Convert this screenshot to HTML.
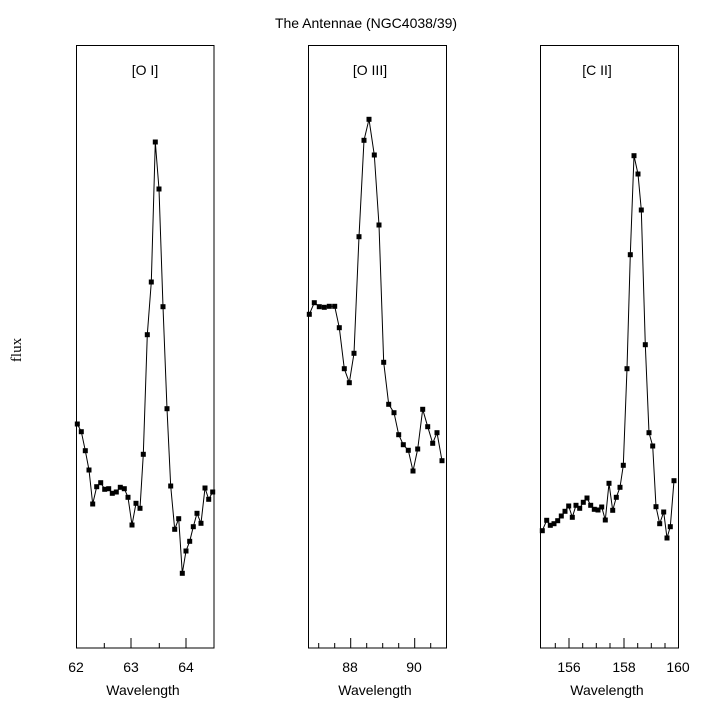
<!DOCTYPE html>
<html><head><style>
html,body{margin:0;padding:0;background:#fff;}
svg{display:block;}
text{font-family:"Liberation Sans",sans-serif;font-size:14px;fill:#000;}
</style></head><body>
<svg width="702" height="711" viewBox="0 0 702 711" xmlns="http://www.w3.org/2000/svg">
<defs>
<marker id="m" markerUnits="userSpaceOnUse" markerWidth="6" markerHeight="6" refX="3" refY="3" viewBox="0 0 6 6"><rect x="0.5" y="0.5" width="5" height="5" fill="#000"/></marker>
</defs>
<text x="366" y="28" text-anchor="middle">The Antennae (NGC4038/39)</text>
<text transform="translate(21,350) rotate(-90)" text-anchor="middle" style="font-family:'Liberation Serif',serif;font-size:15px">flux</text>
<g fill="none" stroke="#000" stroke-width="1">
<rect x="76.5" y="45.5" width="137.5" height="602.5"/>
<rect x="308.5" y="45.5" width="138" height="602.5"/>
<rect x="540.5" y="45.5" width="138" height="602.5"/>
<path d="M131,648v-10M186,648v-10M104.3,648v-5M159.3,648v-5"/>
<path d="M350.7,648v-10M414.7,648v-10M318.7,648v-5M334.7,648v-5M366.7,648v-5M382.7,648v-5M398.7,648v-5M430.7,648v-5"/>
<path d="M569,648v-10M624,648v-10M555.3,648v-5M582.7,648v-5M596.3,648v-5M610,648v-5M637.7,648v-5M651.3,648v-5M665,648v-5"/>
</g>
<g fill="none" stroke="#000" stroke-width="1" marker-start="url(#m)" marker-mid="url(#m)" marker-end="url(#m)">
<polyline points="77.3,424 81.3,431.7 85.3,450.7 89,470 92.7,504 96.7,486.7 100.7,482.7 104.7,489.3 108.7,488.7 112.3,493.3 116.3,492 120.3,487.3 124.3,488.7 128,497.3 132,525 136,503.3 140,508.3 143.3,454.3 147.3,334.7 151.3,282 155.3,142 159,189 163,306.7 167,408.7 170.7,486 174.7,529.3 178.7,518.7 182.3,573.3 186,551 189.7,541.3 193.3,526.7 197,513.3 201,523.3 205,488 208.7,499.3 212.7,492"/>
<polyline points="309.3,314.3 314.3,302.7 319.3,306.7 324.3,307.3 329.3,306.3 334.7,306.3 339.3,327.7 344.3,368.7 349.3,382.7 354,353.3 359,236.7 364,140.3 369,119.3 374.3,155 379,225 383.7,362.3 388.7,404.3 394,412.7 398.7,434.7 403.3,444.7 408.3,450.3 413,471 417.7,449 422.7,409.3 427.7,426.7 432.7,443.3 437,432.7 442,460.7"/>
<polyline points="542.3,530.7 546.7,520.3 550.3,525.3 554,523.7 557.7,520.7 561.3,516 565,511.3 568.7,506 572.3,517.3 576,505.3 579.7,508.3 583.3,502.3 587,498 590.7,505.3 594.3,509.3 598,510 601.7,507 605.3,520 609,483.3 612.7,510.3 616.3,497.3 620,487.3 623.3,465.3 627,368.7 630.3,254.7 634,155.7 638,174 641.3,210 645.3,344.7 649,432.7 652.7,446 656,506.7 659.7,523.7 663.7,512 667,538 670.3,526.7 674,480.7"/>
</g>
<text x="145" y="75" text-anchor="middle">[O I]</text>
<text x="370" y="75" text-anchor="middle">[O III]</text>
<text x="597" y="75" text-anchor="middle">[C II]</text>
<text x="76" y="672" text-anchor="middle">62</text>
<text x="131" y="672" text-anchor="middle">63</text>
<text x="186" y="672" text-anchor="middle">64</text>
<text x="350" y="672" text-anchor="middle">88</text>
<text x="414" y="672" text-anchor="middle">90</text>
<text x="569" y="672" text-anchor="middle">156</text>
<text x="624" y="672" text-anchor="middle">158</text>
<text x="678" y="672" text-anchor="middle">160</text>
<text x="143" y="695" text-anchor="middle">Wavelength</text>
<text x="375" y="695" text-anchor="middle">Wavelength</text>
<text x="607" y="695" text-anchor="middle">Wavelength</text>
</svg>
</body></html>
